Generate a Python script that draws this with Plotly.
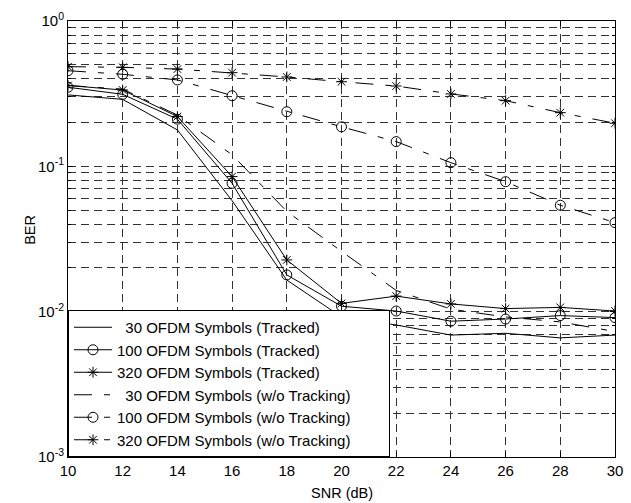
import plotly.graph_objects as go

snr = [10, 12, 14, 16, 18, 20, 22, 24, 26, 28, 30]

ber_30_tracked = [0.31, 0.289, 0.178, 0.058, 0.0165, 0.0092, 0.0081, 0.0069, 0.0071, 0.0066, 0.0069]
ber_100_tracked = [0.35, 0.313, 0.211, 0.0764, 0.0179, 0.0109, 0.0101, 0.0086, 0.0089, 0.0094, 0.0091]
ber_320_tracked = [0.36, 0.335, 0.22, 0.085, 0.0227, 0.0114, 0.0128, 0.0113, 0.0105, 0.0107, 0.0101]
ber_30_wo = [0.36, 0.34, 0.225, 0.12, 0.049, 0.026, 0.014, 0.0104, 0.0092, 0.0085, 0.0073]
ber_100_wo = [0.455, 0.43, 0.393, 0.306, 0.2375, 0.187, 0.148, 0.106, 0.0784, 0.054, 0.041]
ber_320_wo = [0.485, 0.48, 0.467, 0.441, 0.412, 0.382, 0.357, 0.315, 0.283, 0.234, 0.198]

PAD = "\u00a0" * 8
names = [
    "\u00a0\u00a030 OFDM Symbols (Tracked)",
    "100 OFDM Symbols (Tracked)",
    "320 OFDM Symbols (Tracked)",
    "\u00a0\u00a030 OFDM Symbols (w/o Tracking)",
    "100 OFDM Symbols (w/o Tracking)",
    "320 OFDM Symbols (w/o Tracking)" + PAD,
]

x_ticks = [10, 12, 14, 16, 18, 20, 22, 24, 26, 28, 30]
y_tickvals = [1e-3, 1e-2, 1e-1, 1]
y_ticktext = ["10<sup>-3</sup>", "10<sup>-2</sup>", "10<sup>-1</sup>", "10<sup>0</sup>"]
y_minor = [m * 10 ** e for e in (-3, -2, -1) for m in range(2, 10)]

DASHDOT = "18px,12px,6px,12px"
series = [
    (ber_30_tracked, "solid", None),
    (ber_100_tracked, "solid", "circle-open"),
    (ber_320_tracked, "solid", "asterisk-open"),
    (ber_30_wo, DASHDOT, None),
    (ber_100_wo, DASHDOT, "circle-open"),
    (ber_320_wo, DASHDOT, "asterisk-open"),
]

fig = go.Figure()
for (vals, dash, sym), name in zip(series, names):
    mode = "lines+markers" if sym else "lines"
    marker = dict(symbol=sym, size=10 if sym == "circle-open" else 9,
                  color="black", line=dict(color="black", width=1)) if sym else None
    fig.add_trace(go.Scatter(
        x=snr, y=vals, name=name, mode=mode,
        line=dict(color="black", width=1, dash=dash),
        marker=marker,
    ))

GRID = "#333333"
GDASH = "8px,5px"
fig.update_layout(
    width=631, height=503,
    margin=dict(l=68, r=8, t=21, b=46),
    paper_bgcolor="white", plot_bgcolor="white",
    font=dict(family="Arial, Liberation Sans, sans-serif", size=15, color="black"),
    showlegend=True,
    legend=dict(
        x=0, y=0, xanchor="left", yanchor="bottom",
        bgcolor="white", bordercolor="black", borderwidth=1,
        font=dict(size=15, color="black"),
        tracegroupgap=0, itemwidth=38,
    ),
    xaxis=dict(
        range=[10, 30], tickmode="array", tickvals=x_ticks,
        ticks="inside", ticklen=5, tickcolor="black",
        tickfont=dict(size=15), ticklabeloverflow="allow",
        showline=True, linecolor="black", linewidth=1, mirror="allticks",
        showgrid=True, gridcolor=GRID, gridwidth=1, griddash=GDASH,
        zeroline=False,
    ),
    yaxis=dict(
        type="log", range=[-3, 0], tickmode="array",
        tickvals=y_tickvals, ticktext=y_ticktext,
        ticks="inside", ticklen=5, tickcolor="black",
        tickfont=dict(size=15),
        showline=True, linecolor="black", linewidth=1, mirror="allticks",
        showgrid=True, gridcolor=GRID, gridwidth=1, griddash=GDASH,
        zeroline=False,
        minor=dict(tickmode="array", tickvals=y_minor, ticks="inside", ticklen=3,
                   tickcolor="black", showgrid=True, gridcolor=GRID,
                   gridwidth=1, griddash=GDASH),
    ),
    annotations=[
        dict(text="SNR (dB)", xref="paper", yref="paper", x=0.5, y=-0.0826,
             xanchor="center", yanchor="middle", showarrow=False,
             font=dict(size=14.5)),
        dict(text="BER", xref="paper", yref="paper", x=-0.0685, y=0.52,
             xanchor="center", yanchor="middle", showarrow=False, textangle=-90,
             font=dict(size=14.5)),
    ],
)

fig.write_html("out.html")
